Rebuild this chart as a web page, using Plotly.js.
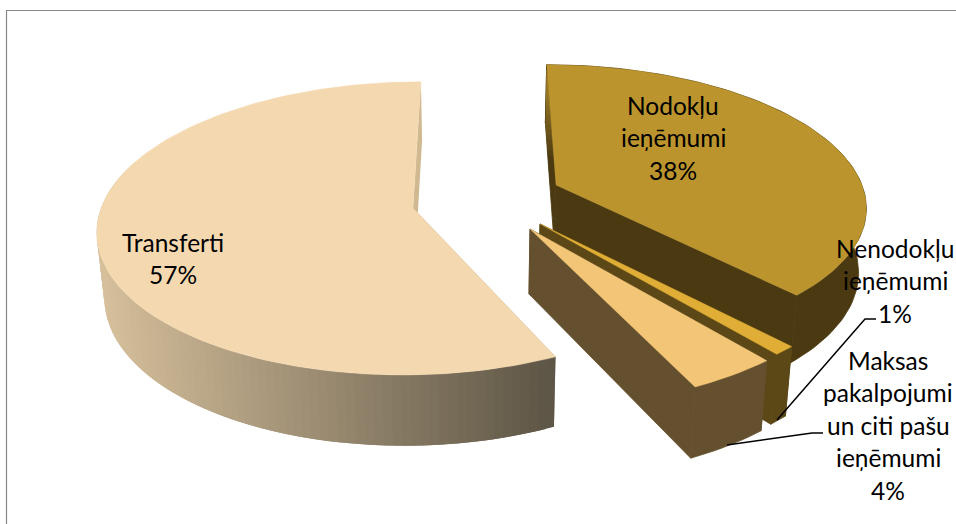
<!DOCTYPE html>
<html>
<head>
<meta charset="utf-8">
<script src="https://cdn.plot.ly/plotly-3.0.1.min.js"></script>
<style>html,body{margin:0;padding:0;background:#fff}#chart{width:956px;height:524px}</style>
</head>
<body>
<div id="chart"></div>
<script>
// --- data, in pie order (clockwise from the top) ---
const categories = ["Nodokļu ieņēmumi", "Nenodokļu ieņēmumi", "Maksas pakalpojumi un citi pašu ieņēmumi", "Transferti"];
const values = [38, 1, 4, 57];

// --- appearance ---
const topColors  = ["#BC942E", "#E0AE36", "#F3C677", "#F4D9B0"];
const wallColors = ["#4B3A11", "#5C4716", "#64502E", null];
const sliverColor = "#D0B890";
const gradientFrom = [214, 192, 156], gradientTo = [94, 86, 70];
const labelLines = [["Nodokļu", "ieņēmumi"], ["Nenodokļu", "ieņēmumi"], ["Maksas", "pakalpojumi", "un citi pašu", "ieņēmumi"], ["Transferti"]];
const labelX = [673, 895, 888, 173];
const labelY = [105, 248, 360, 242];
const lineGap = 32.6;

// --- camera and exploded slice tips (pixels) ---
const tipX = [556, 540, 530, 413];
const tipY = [185, 224, 229, 208];
const sliceScale = [0.302, 0.304, 0.304, 0.301];
const sliceDepth = [1.33e-4, 1.36e-4, 1.36e-4, 1.34e-4];
const camX = 478, vanishY = -828, wallH = 65, wallRef = 1057, shrink = 0.02;

function project(tip, a, r) {
  const rel0 = tipY[tip] - vanishY;
  const ox = (tipX[tip] - camX) / (sliceScale[tip] * rel0);
  const u = 1 / rel0 + sliceDepth[tip] * r * Math.cos(a);
  const rel = 1 / u;
  return [camX + (ox + r * Math.sin(a)) * sliceScale[tip] * rel, vanishY + rel, rel];
}
function drop(p) {
  return [camX + (p[0] - camX) * (1 - shrink), p[1] + wallH * Math.pow(p[2] / wallRef, 0.65)];
}
function poly(pts, color, edge) {
  const xs = pts.map(p => p[0]).concat(pts[0][0]);
  const ys = pts.map(p => p[1]).concat(pts[0][1]);
  return {type: "scatter", mode: "lines", x: xs, y: ys, fill: "toself", fillcolor: color,
          line: edge ? {color: color, width: edge} : {width: 0}, hoverinfo: "skip", showlegend: false};
}
const mix = t => "rgb(" + gradientFrom.map((c, i) => Math.round(c + (gradientTo[i] - c) * t)).join(",") + ")";
const hex = h => [1, 3, 5].map(i => parseInt(h.substr(i, 2), 16));
const blend = (a, b, t) => "rgb(" + hex(a).map((c, i) => Math.round(c + (hex(b)[i] - c) * t)).join(",") + ")";

const total = values.reduce((a, b) => a + b, 0);
const traces = [];
const starts = []; let acc = 0;
values.forEach(v => { starts.push(acc); acc += v; });

// painter's order: Transferti, Nodokļu, Nenodokļu, Maksas
[3, 0, 1, 2].forEach(i => {
  const a0 = starts[i] / total * 2 * Math.PI, a1 = (starts[i] + values[i]) / total * 2 * Math.PI;
  const n = Math.max(4, Math.round((a1 - a0) / (2 * Math.PI) * 240));
  const rim = [];
  for (let k = 0; k <= n; k++) rim.push(project(i, a0 + (a1 - a0) * k / n, 1));
  const tip = project(i, 0, 0);
  const face = (p, c, e) => traces.push(poly([tip, p, drop(p), drop(tip)], c, e));

  if (wallColors[i]) {
    traces.push(poly(rim.concat(rim.slice().reverse().map(drop)), wallColors[i], 0.8));
    face(rim[0], wallColors[i], 0.8);
    face(rim[n], wallColors[i], 0.8);
    if (i === 0) {
      // the thin inner face at the back of the slice fades from gold into shadow
      const B = rim[0], dB = drop(B), dT = drop(tip);
      const xr = y => B[0] + (tip[0] - B[0]) * (y - B[1]) / (tip[1] - B[1]);
      const xl = y => y < dB[1] ? B[0] + (dB[0] - B[0]) * (y - B[1]) / (dB[1] - B[1])
                                : dB[0] + (dT[0] - dB[0]) * (y - dB[1]) / (dT[1] - dB[1]);
      const rows = 24, h = (tip[1] - B[1]) / rows;
      for (let k = 0; k < rows; k++) {
        const y0 = B[1] + k * h, y1 = y0 + h + 0.5;
        traces.push(poly([[xl(y0), y0], [xr(y0), y0], [xr(y1), y1], [xl(y1), y1]],
          blend(topColors[0], wallColors[0], Math.min(1, (k + 1) / (rows * 0.8)))));
      }
    }
  } else {
    face(rim[0], mix(0.5));
    // gradient wall, front-facing part only: each strip overlaps the next so that no seams show
    for (let k = 0; k < n; k++) {
      if (a0 + (a1 - a0) * k / n > 1.6 * Math.PI) break;
      const p = rim[k], q = rim[Math.min(n, k + 2)];
      const col = mix(Math.min(1, Math.max(0, (rim[k][0] - 100) / 452)));
      traces.push(poly([p, q, drop(q), drop(p)], col));
    }
    face(rim[n], sliverColor);
  }
  traces.push(poly([tip].concat(rim), topColors[i], 0.4));
});

// leader lines
const leaderX = [[777, 865, 876], [727, 812, 823]];
const leaderY = [[420, 319, 319], [445, 433, 433]];
leaderX.forEach((lx, j) => traces.push({type: "scatter", mode: "lines", x: lx, y: leaderY[j],
  line: {color: "#000", width: 1.5}, hoverinfo: "skip", showlegend: false}));

// labels
const annotations = [];
categories.forEach((c, i) => {
  labelLines[i].concat(values[i] + "%").forEach((t, j) => annotations.push({
    xref: "x", yref: "y", x: labelX[i], y: labelY[i] + j * lineGap, text: t, showarrow: false,
    xanchor: "center", yanchor: "middle", font: {family: "Lato, Carlito, sans-serif", size: 24.5, color: "#000"}
  }));
});

const layout = {
  width: 956, height: 524, margin: {l: 0, r: 0, t: 0, b: 0},
  paper_bgcolor: "#fff", plot_bgcolor: "#fff", showlegend: false,
  xaxis: {range: [0, 956], visible: false, fixedrange: true},
  yaxis: {range: [524, 0], visible: false, fixedrange: true},
  annotations: annotations,
  shapes: [{type: "path", xref: "x", yref: "y", path: "M6.5,524 L6.5,10.5 L956,10.5", line: {color: "#868686", width: 1.2}, layer: "below"}]
};
Plotly.newPlot("chart", traces, layout, {displayModeBar: false, staticPlot: true});
</script>
</body>
</html>
